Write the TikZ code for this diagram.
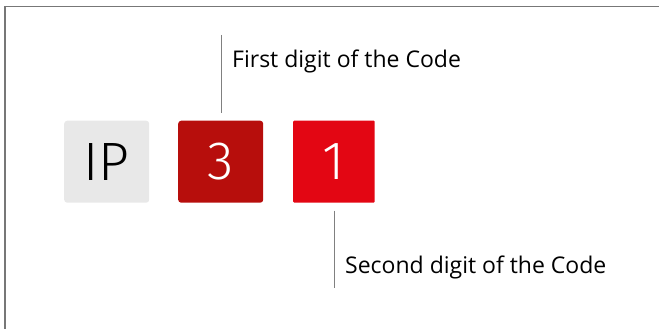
\documentclass[tikz,border=0pt]{standalone}
\usepackage{fontspec}
\setmainfont{Open Sans}
\newfontfamily\digitfont{Fira Sans Light}
\definecolor{framegray}{HTML}{777777}
\definecolor{linegray}{HTML}{808080}
\definecolor{ipgray}{HTML}{E8E8E8}
\definecolor{darkred}{HTML}{B70E0C}
\definecolor{brightred}{HTML}{E30613}
\begin{document}
\begin{tikzpicture}[x=1pt,y=-1pt,
  codebox/.style={minimum width=85pt,minimum height=82pt,inner sep=0pt,anchor=north west,font=\digitfont\fontsize{54}{54}\selectfont},
  leader/.style={draw=linegray,line width=0.9pt},
  caption/.style={anchor=base west,inner sep=0pt,font=\fontsize{23}{27}\selectfont,text=black}]
\useasboundingbox (0,0) rectangle (659,329);
\draw[framegray,line width=1.4pt] (5,329) -- (5,6.5) -- (659,6.5);
\node[codebox,fill=ipgray,rounded corners=3pt,text=black] (ip) at (64,120.5) {IP};
\node[codebox,fill=darkred,rounded corners=3pt,text=white] (three) at (178,120.5) {3};
\node[codebox,fill=brightred,minimum width=81.5pt,rounded corners=1pt,text=white] (one) at (293,120.5) {1};
\coordinate (a1) at (221,35);
\coordinate (a2) at (221,112.5);
\coordinate (b1) at (334.5,210.5);
\coordinate (b2) at (334.5,288);
\draw[leader] (a1) -- (a2);
\draw[leader] (b1) -- (b2);
\node[caption] (cap1) at (232,67.5) {First digit of the Code};
\node[caption] (cap2) at (345,273) {Second digit of the Code};
\end{tikzpicture}
\end{document}
